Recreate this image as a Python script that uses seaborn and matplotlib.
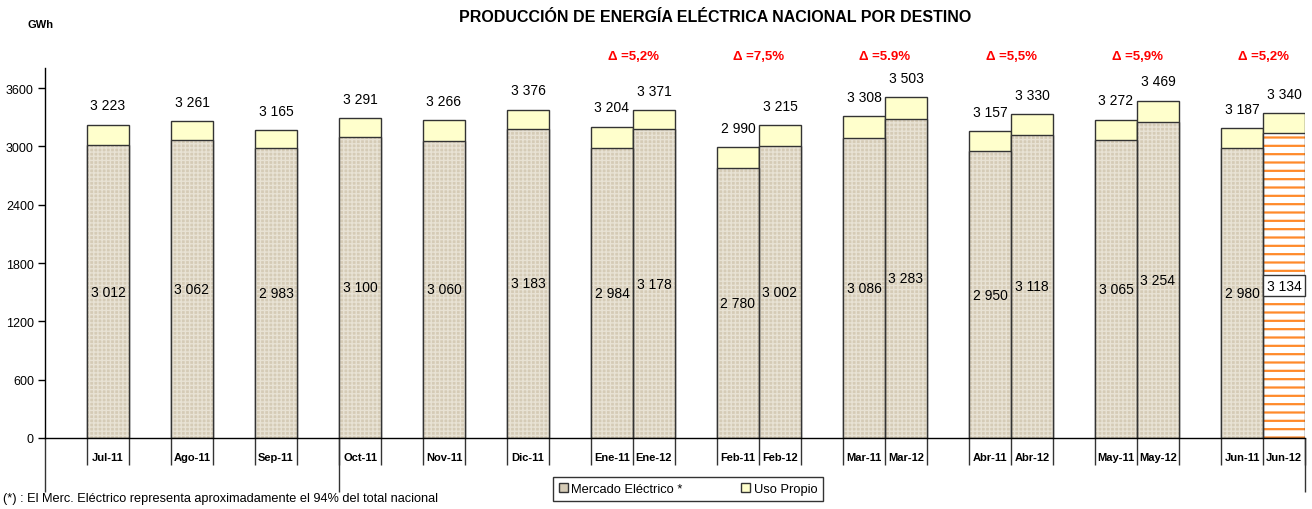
import numpy as np
import pandas as pd
import matplotlib
matplotlib.use('Agg')
import matplotlib.pyplot as plt
from matplotlib.patches import Patch
import seaborn as sns

# Datos (GWh)
meses = ['Jul-11', 'Ago-11', 'Sep-11', 'Oct-11', 'Nov-11', 'Dic-11',
         'Ene-11', 'Ene-12', 'Feb-11', 'Feb-12', 'Mar-11', 'Mar-12',
         'Abr-11', 'Abr-12', 'May-11', 'May-12', 'Jun-11', 'Jun-12']
mercado = [3012, 3062, 2983, 3100, 3060, 3183,
           2984, 3178, 2780, 3002, 3086, 3283,
           2950, 3118, 3065, 3254, 2980, 3134]
total = [3223, 3261, 3165, 3291, 3266, 3376,
         3204, 3371, 2990, 3215, 3308, 3503,
         3157, 3330, 3272, 3469, 3187, 3340]
deltas = ['Δ =5,2%', 'Δ =7,5%', 'Δ =5.9%', 'Δ =5,5%', 'Δ =5,9%', 'Δ =5,2%']

# colores
YELLOW = '#ffffcc'
BEIGE = '#d5cbb6'
TEXTURE = '#e8e2d4'
EDGE = '#333333'
ORANGE = '#ff8a2a'

# posiciones: meses sueltos cada 2 huecos, pares cada 3
slots = [1 + 2 * i for i in range(6)]
for j in range(6):
    slots += [13 + 3 * j, 14 + 3 * j]
pos = np.array(slots) + 0.5

df = pd.DataFrame({'mes': meses, 'pos': pos, 'mercado': mercado, 'total': total})

sns.set_theme(style='white')
plt.rcParams['font.family'] = ['Liberation Sans', 'DejaVu Sans']
plt.rcParams['text.color'] = 'black'
plt.rcParams['hatch.linewidth'] = 1.0

fig = plt.figure(figsize=(13.12, 5.10), dpi=100)
ax = fig.add_axes([45 / 1312, 71 / 510, 1260 / 1312, 370 / 510])

# total (uso propio arriba)
sns.barplot(data=df, x='pos', y='total', native_scale=True, width=1, color=YELLOW,
            saturation=1, edgecolor=EDGE, linewidth=1, errorbar=None, ax=ax)
# mercado con textura
sns.barplot(data=df, x='pos', y='mercado', native_scale=True, width=1, color=BEIGE,
            saturation=1, edgecolor=TEXTURE, linewidth=0, hatch='++++', errorbar=None, ax=ax)
sns.barplot(data=df, x='pos', y='mercado', native_scale=True, width=1, fill=False,
            color=EDGE, linewidth=1, errorbar=None, ax=ax)

# Jun-12 (parcial)
n = len(df)
jun = ax.patches[n + n - 1]
jun.set_facecolor('white')
jun.set_edgecolor(ORANGE)
jun.set_hatch('--')
if hasattr(jun, 'set_hatch_linewidth'):
    jun.set_hatch_linewidth(1.6)

def fmt(v):
    return f'{v:,}'.replace(',', ' ')

for i, row in df.iterrows():
    ax.annotate(fmt(row['total']), (row['pos'], row['total']), xytext=(0, 14),
                textcoords='offset points', ha='center', va='center', fontsize=10, color='black')
    if row['mes'] == 'Jun-12':
        ax.text(row['pos'], row['mercado'] / 2, fmt(row['mercado']), ha='center', va='center',
                fontsize=10, color='black',
                bbox=dict(boxstyle='square,pad=0.25', facecolor='white', edgecolor=EDGE, linewidth=1))
    else:
        ax.text(row['pos'], row['mercado'] / 2, fmt(row['mercado']), ha='center', va='center',
                fontsize=10, color='black')

# variaciones sobre cada par
for j, d in enumerate(deltas):
    xc = slots[6 + 2 * j] + 1
    ax.text(xc, 1.032, d, transform=ax.get_xaxis_transform(), ha='center', va='center',
            fontsize=9.5, fontweight='bold', color='#ff0000')

ax.set_xlim(0, 30)
ax.set_ylim(0, 3806)
ax.set_yticks(range(0, 3601, 600))
ax.set_xticks(pos)
ax.set_xticklabels(meses, fontweight='bold', fontsize=8)
ax.set_xlabel('')
ax.set_ylabel('')
ax.tick_params(axis='x', length=0, pad=10, colors='black')
ax.tick_params(axis='y', length=5, width=1, direction='out', left=True, labelsize=9,
               colors='black', pad=3)
for s in ['top', 'right']:
    ax.spines[s].set_visible(False)
for s in ['left', 'bottom']:
    ax.spines[s].set_color('black')
    ax.spines[s].set_linewidth(1)

# separadores de categorias bajo el eje
edges = sorted(set(list(pos - 0.5) + list(pos + 0.5)))
ax.vlines(edges, -27 / 370, 0, transform=ax.get_xaxis_transform(), clip_on=False,
          color=EDGE, linewidth=1)
ax.vlines([0, slots[3], 30], -54 / 370, 0, transform=ax.get_xaxis_transform(), clip_on=False,
          color=EDGE, linewidth=1)

fig.text(715 / 1312, 1 - 18 / 510, 'PRODUCCIÓN DE ENERGÍA ELÉCTRICA NACIONAL POR DESTINO',
         ha='center', va='center', fontsize=11.5, fontweight='bold', color='black')
fig.text(41 / 1312, 1 - 25 / 510, 'GWh', ha='center', va='center', fontsize=8,
         fontweight='bold', color='black')
fig.text(3 / 1312, 1 - 499 / 510,
         '(*) : El Merc. Eléctrico representa aproximadamente el 94% del total nacional',
         ha='left', va='center', fontsize=9.2, color='black')

handles = [Patch(facecolor=BEIGE, edgecolor=EDGE, label='Mercado Eléctrico *'),
           Patch(facecolor=YELLOW, edgecolor=EDGE, label='Uso Propio')]
leg = fig.legend(handles=handles, loc='center', bbox_to_anchor=(688 / 1312, 1 - 490 / 510),
                 ncol=2, frameon=True, fancybox=False, edgecolor='black', fontsize=9.3,
                 handlelength=0.7, handleheight=0.7, handletextpad=0.3, columnspacing=4.5,
                 borderpad=0.45)
leg.get_frame().set_linewidth(1)

fig.savefig('out.png', dpi=100)
